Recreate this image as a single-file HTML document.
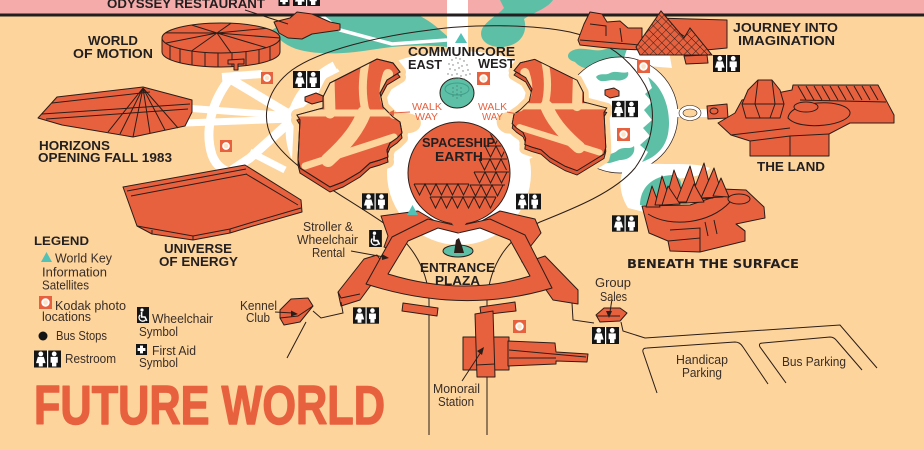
<!DOCTYPE html>
<html><head><meta charset="utf-8">
<style>
html,body{margin:0;padding:0;background:#fdd49c;}
svg{display:block}
text{font-family:"Liberation Sans",Arial,sans-serif}
.b{font-weight:bold;fill:#231f20;font-size:13px}
.r{fill:#3a2e28;font-size:12.5px}
.bd{fill:#e8613f;stroke:#2b1d18;stroke-width:1;stroke-linejoin:round}
.ln{fill:none;stroke:#2b1d18;stroke-width:1}
.wk{fill:#e8613f;font-size:10px}
</style></head><body>
<svg width="924" height="450" viewBox="0 0 924 450" xmlns="http://www.w3.org/2000/svg" xmlns:xlink="http://www.w3.org/1999/xlink">
<defs>
 <symbol id="rr" viewBox="0 0 27 17">
  <rect width="27" height="17" fill="#151515"/>
  <rect x="13" y="0" width="1.2" height="17" fill="#fff"/>
  <circle cx="6.8" cy="3.4" r="2.4" fill="#fff"/>
  <path d="M3.8,6.4 H9.8 L11.6,12.6 H8.8 V16 H4.8 V12.6 H2 Z" fill="#fff"/>
  <circle cx="20.2" cy="3.4" r="2.4" fill="#fff"/>
  <path d="M16.6,6.4 H23.8 V12.2 H22.4 V16 H18 V12.2 H16.6 Z" fill="#fff"/>
 </symbol>
 <symbol id="kd" viewBox="0 0 13 13">
  <rect width="13" height="13" fill="#e8613f"/>
  <circle cx="6.5" cy="6.5" r="4.2" fill="#fff"/>
  <circle cx="6.5" cy="6.5" r="2.4" fill="#fde3c6"/>
 </symbol>
 <symbol id="wc" viewBox="0 0 12 16">
  <rect width="12" height="16" fill="#151515"/>
  <circle cx="5" cy="3" r="1.6" fill="#fff"/>
  <path d="M4.6,5 V10 H8 L9.8,13.8" stroke="#fff" stroke-width="1.6" fill="none"/>
  <path d="M3,8 A3.6,3.6 0 1 0 8.4,13" stroke="#fff" stroke-width="1.3" fill="none"/>
 </symbol>
 <symbol id="fa" viewBox="0 0 11 11">
  <rect width="11" height="11" fill="#151515"/>
  <rect x="4" y="1.6" width="3" height="7.8" fill="#fff"/>
  <rect x="1.6" y="4" width="7.8" height="3" fill="#fff"/>
 </symbol>
 <pattern id="lat" width="6" height="6" patternUnits="userSpaceOnUse" patternTransform="rotate(45)">
  <rect width="6" height="6" fill="#e8613f"/>
  <path d="M0,0 H6 M0,0 V6" stroke="#2b1d18" stroke-width="0.9"/>
 </pattern>
 <path id="eP" d="M330,83 L377,59 L393,63 L400,72 L387,80 L380,93 L383,107 L393,117 L400,122 L402,133 L397,138 L390,143 L387,150 L388,157 L380,160 L370,163 L360,172 L343,182 L330,187 L300,168 L298,160 L300,120 L297,115 L323,108 L323,97 Z"/>
 <clipPath id="eC"><use href="#eP" xlink:href="#eP"/></clipPath>
 <clipPath id="sC"><circle cx="459" cy="173" r="50"/></clipPath>
</defs>

<!-- background -->
<rect width="924" height="450" fill="#fdd49c"/>
<rect x="0" y="0" width="924" height="15" fill="#f5abaa"/>
<rect x="447" y="0" width="21" height="62" fill="#fff"/>
<path d="M272,30 C285,22 300,16 318,16 L420,16 C432,22 440,30 447,36 L447,47 C420,44 395,46 370,50 C345,54 320,55 300,50 C288,47 278,40 272,30 Z" fill="#5dbfa6"/>
<path d="M500,0 L553,0 C547,9 532,13 524,19 C528,31 522,45 503,47 C487,48 478,39 482,29 C486,21 498,15 504,8 Z" fill="#5dbfa6"/>
<path d="M570,52 C580,45 592,52 602,50 C612,48 620,44 632,48 C642,52 640,62 630,64 C618,66 610,60 600,66 C592,72 580,68 575,62 C568,60 566,56 570,52 Z" fill="#5dbfa6"/>
<path d="M322,16 L340,30 L392,44 L447,40" fill="none" stroke="#fff" stroke-width="3.5"/>

<!-- white areas -->
<ellipse cx="458" cy="112" rx="112" ry="61" fill="#fff"/>
<circle cx="459" cy="173" r="72" fill="#fff"/>
<path d="M622,64 L628,46 L668,46 L672,68 Z" fill="#fff"/>
<circle cx="620" cy="115" r="58" fill="#fff" stroke="#2b1d18" stroke-width="0.7"/>
<rect x="672" y="109" width="36" height="8" fill="#fff"/>
<ellipse cx="690" cy="113" rx="11" ry="7.5" fill="#fff" stroke="#2b1d18" stroke-width="0.6"/>
<ellipse cx="690" cy="113" rx="7" ry="4" fill="#fdd49c" stroke="#2b1d18" stroke-width="0.6"/>
<path d="M628,160 C650,168 690,160 710,168 C700,180 680,176 664,182 C650,188 642,198 644,212 L628,208 C618,192 618,175 628,160 Z" fill="#fff"/>
<g fill="none" stroke="#fff">
 <path d="M232,76 C212,100 204,130 212,155 C216,166 224,172 236,174" stroke-width="9"/>
 <path d="M222,77 L262,74" stroke-width="8"/>
 <path d="M232,80 L292,116" stroke-width="9"/>
 <path d="M185,108 L292,116" stroke-width="7"/>
 <path d="M185,123 L292,119" stroke-width="7"/>
 <path d="M292,120 L250,158 L232,170" stroke-width="9"/>
 <path d="M250,152 L285,170" stroke-width="7"/>
 <path d="M288,115 L318,88 L340,72" stroke-width="9"/>
 <path d="M335,66 C305,82 288,108 291,138 C293,155 300,166 312,176" stroke-width="10"/>
</g>
<circle cx="290" cy="117" r="8" fill="#fff"/>

<!-- teal inside ring -->
<path fill="#5dbfa6" d="M596,77 C600,72 606,76 610,73 C616,70 622,74 628,72 C630,78 622,82 614,80 C606,80 600,84 596,77 Z"/>
<path fill="#5dbfa6" d="M648,77 C664,88 672,112 668,134 C665,148 656,157 642,162 L648,152 L640,145 L650,136 L643,128 L652,120 L644,110 L652,102 L645,94 L652,88 Z"/>
<path fill="#5dbfa6" d="M600,160 C605,152 612,156 618,150 C624,146 630,150 634,146 C636,155 628,160 620,160 C612,162 606,166 600,160 Z"/>
<path fill="#5dbfa6" d="M640,205 C640,188 652,176 672,175 C680,176 684,184 680,192 L660,205 Z"/>

<!-- peach pads -->
<g fill="#fdd49c" stroke="#fdd49c" stroke-width="12" stroke-linejoin="round">
 <use href="#eP" xlink:href="#eP"/>
 <use href="#eP" xlink:href="#eP" transform="translate(0,5)"/>
 <g transform="translate(874,8) scale(-0.9,0.87)">
  <use href="#eP" xlink:href="#eP"/>
  <use href="#eP" xlink:href="#eP" transform="translate(0,5)"/>
 </g>
</g>
<path fill="#fdd49c" d="M388,116 C398,111 415,112 420,119 C423,126 418,132 410,133 C400,134 392,130 388,126 Z"/>
<path fill="#fdd49c" d="M533,114 C523,110 505,110 498,116 C495,122 497,130 505,133 C515,135 528,132 533,128 Z"/>

<!-- monorail loop -->
<path class="ln" d="M429,435 L429,300 C428,272 415,247 388,226 C345,196 292,170 272,138 C260,115 268,88 292,70 C320,50 380,36 430,30 C470,24 530,24 570,32 C605,40 630,58 645,85 C657,108 655,140 635,168 C615,192 575,208 540,222 C510,236 490,262 487,300 L487,435"/>

<rect x="0" y="13.5" width="924" height="3" fill="#231f20"/>

<!-- Communicore buildings -->
<g id="eB">
 <use href="#eP" xlink:href="#eP" transform="translate(0,5)" fill="#dd5535" stroke="#2b1d18"/>
 <use href="#eP" xlink:href="#eP" fill="#e8613f" stroke="#2b1d18"/>
 <g clip-path="url(#eC)" fill="none" stroke="#fdd49c" stroke-linecap="round">
  <path d="M294,113 L404,113" stroke-width="7"/>
  <path d="M367,56 C361,80 362,98 366,113" stroke-width="8"/>
  <path d="M329,78 L330,113" stroke-width="11"/>
  <path d="M388,74 C382,92 384,104 394,114" stroke-width="10"/>
  <path d="M364,113 C358,128 348,142 328,160" stroke-width="14"/>
  <path d="M305,166 L394,137" stroke-width="7"/>
 </g>
 <use href="#eP" xlink:href="#eP" fill="none" stroke="#2b1d18"/>
</g>
<use href="#eB" xlink:href="#eB" transform="translate(874,8) scale(-0.9,0.87)"/>

<!-- Odyssey -->
<path class="bd" d="M274,22 L290,18 L297,12 L312,14 L330,22 L340,24 L340,30 L326,32 L312,34 L302,39 L288,38 L279,33 Z"/>
<path class="ln" d="M245,10 L288,24"/>

<!-- World of Motion -->
<path class="bd" d="M162,38 L162,52 A59,15 0 0 0 280,52 L280,38 Z"/>
<ellipse class="bd" cx="221" cy="38" rx="59" ry="15"/>
<path class="ln" d="M217,33 L280,38 M217,33 L266,47.6 M217,33 L231,52.8 M217,33 L191.5,51 M217,33 L165.6,43.1 M217,33 L165.6,32.9 M217,33 L191.5,25 M217,33 L231,23.2 M217,33 L266,28.4"/>
<path class="ln" d="M170,45.5 V59.5 M180,48.8 V62.8 M192,51.1 V65.1 M205,52.4 V66.4 M218,53 V67 M232,52.7 V66.7 M246,51.6 V65.6 M259,49.5 V63.5 M270,46.4 V60.4"/>
<path class="bd" d="M228,60 L244,59 L244,64 L238,64 L238,70 L234,70 L234,64 L228,64 Z"/>

<!-- Horizons -->
<path class="bd" d="M38,118 L57,97 L143,87 L192,100 L192,112 L185,126 L133,137 L62,125 Z"/>
<path class="ln" d="M42,114 L190,104 M46,119 L188,109 M52,103 L150,92 M143,88 L108,132 M143,88 L120,134 M143,88 L133,137 M143,88 L150,133 M143,88 L165,130 M143,88 L178,128"/>

<!-- Universe of Energy -->
<path class="bd" d="M123,187 L245,165 L301,200 L302,212 L253,226 L230,233 L193,240 L152,234 L137,226 Z"/>
<path class="ln" d="M127,191 L246,169 M131,196 L247,174 M246,174 L298,205 M137,226 L193,236 L230,229 L253,222 L301,208 M193,236 L193,240 M230,229 L230,233 M152,230 L152,234"/>

<!-- Journey into Imagination -->
<path class="bd" d="M656,18 L727,20 L727,48 L706,50 L690,40 Z"/>
<path class="bd" d="M578,40 L584,24 L590,12 L602,14 L607,22 L620,21 L628,28 L642,28 L642,50 L620,49 L598,47 L580,45 Z"/>
<path class="ln" d="M580,40 L640,45 M590,24 L606,26 L606,36 M620,28 L622,42"/>
<path fill="url(#lat)" stroke="#2b1d18" d="M636,47 L661,11 L684,38 L690,28 L712,55 L640,55 Z"/>
<path class="bd" d="M684,56 L707,55 L708,63 L686,64 Z"/>

<!-- The Land -->
<path class="bd" d="M707,106 L727,104 L728,118 L708,119 Z"/>
<ellipse class="bd" cx="714" cy="111" rx="4" ry="3"/>
<path class="bd" d="M718,123 L735,113 L742,100 L792,90 L793,85 L878,85 L894,115 L894,123 L850,123 L829,134 L829,156 L750,156 L750,141 L731,135 Z"/>
<path class="ln" d="M798,86 L806,100 M806,86 L814,100 M814,86 L822,100 M822,86 L830,100 M830,86 L838,100 M838,86 L846,100 M846,86 L854,100 M854,86 L862,100 M862,86 L870,100 M870,86 L878,100 M800,100 L886,102 M750,141 L790,136 L829,134 M790,136 L790,156 M731,135 L790,128"/>
<path class="bd" d="M742,104 L748,90 L758,80 L772,80 L780,90 L784,104 L780,118 L746,118 Z"/>
<path class="ln" d="M758,80 L755,104 L760,118 M772,80 L775,104 L770,118 M742,104 L784,104"/>
<path class="bd" d="M788,118 C790,100 845,98 850,112 C852,125 800,132 788,118 Z"/>
<ellipse class="bd" cx="806" cy="107" rx="12" ry="5"/>

<!-- Beneath the Surface -->
<path class="bd" d="M642,206 L649,233 L668,241 L670,251 L700,252 L745,241 L745,231 L736,224 L765,218 L764,207 L746,190 L722,189 L714,197 L690,205 Z"/>
<path class="ln" d="M648,214 C670,228 710,224 730,202 M668,241 L700,238 L700,252 M670,230 L700,228 L700,238 M705,222 L708,236 M714,220 L717,234 M745,231 L736,224"/>
<ellipse class="bd" cx="739" cy="199" rx="11" ry="5"/>
<g class="bd">
 <path d="M646,207 L652,186 L660,207 Z"/>
 <path d="M655,205 L662,176 L672,205 Z"/>
 <path d="M665,203 L674,170 L686,203 Z"/>
 <path d="M676,202 L690,166 L700,202 Z"/>
 <path d="M690,200 L704,163 L713,198 Z"/>
 <path d="M701,198 L714,168 L723,197 Z"/>
 <path d="M713,196 L721,178 L729,197 Z"/>
 <path d="M662,205 L668,186 L680,204 Z"/>
 <path d="M686,203 L694,184 L704,202 Z"/>
</g>

<!-- Spaceship Earth -->
<circle cx="459" cy="173" r="51" class="bd"/>
<g clip-path="url(#sC)" class="ln" stroke-width="0.9">
 <path d="M414,184 H469 M414,184 L419.5,195 L425,184 L430.5,195 L436,184 L441.5,195 L447,184 L452.5,195 L458,184 L463.5,195 L469,184"/>
 <path d="M430,197 H496 M430,197 L435.5,208 L441,197 L446.5,208 L452,197 L457.5,208 L463,197 L468.5,208 L474,197 L479.5,208 L485,197 L490.5,208 L496,197"/>
 <path d="M474,172 H510 M474,172 L479.5,183 L485,172 L490.5,183 L496,172 L501.5,183 L507,172"/>
 <path d="M479,159 H510 M479,159 L484.5,170 L490,159 L495.5,170 L501,159 L506.5,170"/>
 <path d="M485,146 H510 M485,146 L490.5,157 L496,146 L501.5,157 L507,146"/>
 <path d="M490,133 H506 M490,133 L495.5,144 L501,133"/>
 <path d="M470,185 H505 M470,185 L475.5,196 L481,185 L486.5,196 L492,185 L497.5,196 L503,185"/>
</g>

<!-- Communicore fountain -->
<ellipse cx="457" cy="93" rx="17" ry="15" fill="#5dbfa6" stroke="#2b1d18"/>
<ellipse cx="457" cy="89" rx="12" ry="6" fill="none" stroke="#3f9f89" stroke-width="1"/>
<g fill="#4a6d64">
 <circle cx="453" cy="88" r=".6"/><circle cx="453" cy="92" r=".6"/><circle cx="453" cy="96" r=".6"/>
 <circle cx="457" cy="86" r=".6"/><circle cx="457" cy="90" r=".6"/><circle cx="457" cy="94" r=".6"/><circle cx="457" cy="98" r=".6"/>
 <circle cx="461" cy="88" r=".6"/><circle cx="461" cy="92" r=".6"/><circle cx="461" cy="96" r=".6"/>
</g>
<g fill="#777">
 <circle cx="452" cy="60" r=".7"/><circle cx="456" cy="58" r=".7"/><circle cx="460" cy="59" r=".7"/><circle cx="464" cy="61" r=".7"/>
 <circle cx="449" cy="64" r=".7"/><circle cx="453" cy="65" r=".7"/><circle cx="458" cy="63" r=".7"/><circle cx="462" cy="66" r=".7"/><circle cx="467" cy="65" r=".7"/>
 <circle cx="450" cy="69" r=".7"/><circle cx="455" cy="70" r=".7"/><circle cx="459" cy="68" r=".7"/><circle cx="463" cy="71" r=".7"/><circle cx="468" cy="70" r=".7"/>
 <circle cx="448" cy="74" r=".7"/><circle cx="452" cy="75" r=".7"/><circle cx="457" cy="74" r=".7"/><circle cx="461" cy="76" r=".7"/><circle cx="466" cy="75" r=".7"/><circle cx="470" cy="74" r=".7"/>
 <circle cx="454" cy="79" r=".7"/><circle cx="459" cy="78" r=".7"/><circle cx="464" cy="79" r=".7"/>
</g>

<!-- Entrance plaza structures -->
<path class="bd" d="M338,292 L364,259 L377,255 L385,266 L360,300 L341,306 Z"/>
<path class="ln" d="M338,292 L341,298 L360,294"/>
<path class="bd" d="M381,216 L418,211 L440,224 L428,230 L405,238 L392,250 L384,247 L388,236 Z"/>
<path class="bd" d="M478,223 L500,211 L535,219 L541,233 L530,247 L518,240 L505,230 Z"/>
<path class="bd" d="M533,260 L545,256 L578,290 L578,304 L553,300 L533,271 Z"/>
<path class="bd" d="M518,246 L528,244 L532,262 L522,262 Z"/>
<path class="bd" fill-rule="evenodd" d="M366,284 L392,237 L428,219 L458,226 L490,219 L525,235 L552,288 Q463,315 366,284 Z M388,274 L408,241 L438,228 L458,233 L480,228 L510,240 L530,276 Q463,297 388,274 Z"/>
<path fill="#e8613f" d="M451,222 L467,222 L459,233 Z"/>
<ellipse cx="458" cy="251" rx="15" ry="6" fill="#5dbfa6" stroke="#2b1d18"/>
<path d="M454,253 L456,240 L459,238 L462,246 L464,253 Z" fill="#2b1d18"/>
<path class="bd" d="M403,303 L438,308 L437,316 L402,311 Z"/>
<path class="bd" d="M480,307 L515,302 L516,311 L481,315 Z"/>

<!-- Monorail station -->
<rect class="bd" x="463" y="337" width="46" height="33"/>
<path class="bd" d="M508,341 L555,343 L556,352 L588,354 L587,362 L556,361 L556,364 L508,366 Z"/>
<path class="ln" d="M509,350 L586,357 M509,358 L556,358"/>
<path class="bd" d="M475,314 L493,311 L495,377 L477,377 Z"/>
<path class="ln" d="M476,365 L495,364"/>

<!-- small buildings -->
<path class="bd" d="M280,310 L291,299 L308,298 L313,306 L300,322 L284,325 L280,318 Z"/>
<path class="ln" d="M280,318 L298,316 L313,306"/>
<path class="bd" d="M596,315 L604,308 L620,308 L627,313 L620,321 L600,322 Z"/>
<path class="ln" d="M597,316 L620,316"/>
<path class="bd" d="M305,97 L316,93 L323,96 L323,101 L312,104 L305,101 Z"/>
<path class="bd" d="M605,90 L614,88 L619,91 L619,96 L610,98 L605,95 Z"/>

<!-- lines -->
<path class="ln" d="M313,311 L321,318 L343,313 L341,302"/>
<path class="ln" d="M306,322 L287,358"/>
<path class="ln" d="M572,303 L573,320 L594,323"/>
<path class="ln" d="M621,322 L623,331 L645,338 L840,325 L877,368"/>
<path class="ln" d="M657,393 L643,352 Q642,348 647,348 L735,342 Q740,342 743,347 L768,384"/>
<path class="ln" d="M786,383 L760,347 Q758,343 763,343 L830,337 Q834,337 837,341 L862,370"/>
<!-- arrows -->
<path class="ln" d="M351,251 L384,257"/><path d="M389,258 L382,254 L382,260 Z" fill="#2b1d18"/>
<path class="ln" d="M275,312 L293,313"/><path d="M298,314 L291,310.5 L291,316.5 Z" fill="#2b1d18"/>
<path class="ln" d="M462,381 L481,352"/><path d="M484,347 L477,351 L482,355 Z" fill="#2b1d18"/>
<path class="ln" d="M612,299 L610,312"/><path d="M609,318 L606,311 L612,311 Z" fill="#2b1d18"/>
<path d="M410,112 L392,113" stroke="#e8613f" stroke-width="1"/><path d="M388,113 L394,110 L394,116 Z" fill="#e8613f"/>
<path d="M507,112 L523,115" stroke="#e8613f" stroke-width="1"/><path d="M527,116 L520,112 L520,118 Z" fill="#e8613f"/>

<!-- icons -->
<use href="#fa" xlink:href="#fa" x="278" y="-5" width="12" height="11"/>
<use href="#rr" xlink:href="#rr" x="293" y="-11" width="27" height="17"/>
<use href="#rr" xlink:href="#rr" x="293" y="71" width="27" height="17"/>
<use href="#rr" xlink:href="#rr" x="362" y="193" width="26" height="17"/>
<use href="#rr" xlink:href="#rr" x="516" y="193" width="25" height="17"/>
<use href="#rr" xlink:href="#rr" x="612" y="100" width="26" height="18"/>
<use href="#rr" xlink:href="#rr" x="713" y="55" width="27" height="17"/>
<use href="#rr" xlink:href="#rr" x="612" y="215" width="26" height="17"/>
<use href="#rr" xlink:href="#rr" x="353" y="307" width="26" height="17"/>
<use href="#rr" xlink:href="#rr" x="592" y="327" width="27" height="17"/>
<use href="#rr" xlink:href="#rr" x="34" y="350" width="27" height="18"/>
<use href="#kd" xlink:href="#kd" x="261" y="72" width="12" height="12"/>
<use href="#kd" xlink:href="#kd" x="220" y="140" width="12" height="12"/>
<use href="#kd" xlink:href="#kd" x="477" y="72" width="13" height="13"/>
<use href="#kd" xlink:href="#kd" x="637" y="60" width="13" height="13"/>
<use href="#kd" xlink:href="#kd" x="617" y="128" width="13" height="13"/>
<use href="#kd" xlink:href="#kd" x="513" y="320" width="13" height="13"/>
<use href="#kd" xlink:href="#kd" x="39" y="296" width="13" height="13"/>
<use href="#wc" xlink:href="#wc" x="137" y="307" width="12" height="16"/>
<use href="#wc" xlink:href="#wc" x="369" y="230" width="13" height="17"/>
<use href="#fa" xlink:href="#fa" x="136" y="344" width="11" height="11"/>
<path d="M461,33 L467,43 L455,43 Z" fill="#52c1b6"/>
<path d="M412.5,205 L418,215 L407,215 Z" fill="#52c1b6"/>
<path d="M46.5,252 L52,262 L41,262 Z" fill="#52c1b6"/>
<circle cx="43" cy="336" r="4.5" fill="#151515"/>

<!-- bold labels -->
<text class="b" x="107" y="8" textLength="158" lengthAdjust="spacingAndGlyphs">ODYSSEY RESTAURANT</text>
<text class="b" x="88" y="45" textLength="50" lengthAdjust="spacingAndGlyphs">WORLD</text>
<text class="b" x="73" y="58" textLength="80" lengthAdjust="spacingAndGlyphs">OF MOTION</text>
<text class="b" x="39" y="150" textLength="71" lengthAdjust="spacingAndGlyphs">HORIZONS</text>
<text class="b" x="38" y="162" textLength="134" lengthAdjust="spacingAndGlyphs">OPENING FALL 1983</text>
<text class="b" x="164" y="253" textLength="68" lengthAdjust="spacingAndGlyphs">UNIVERSE</text>
<text class="b" x="159" y="266" textLength="79" lengthAdjust="spacingAndGlyphs">OF ENERGY</text>
<text class="b" x="408" y="56" textLength="107" lengthAdjust="spacingAndGlyphs">COMMUNICORE</text>
<text class="b" x="408" y="69" textLength="34" lengthAdjust="spacingAndGlyphs">EAST</text>
<text class="b" x="478" y="68" textLength="37" lengthAdjust="spacingAndGlyphs">WEST</text>
<text class="b" x="422" y="147" textLength="73" lengthAdjust="spacingAndGlyphs">SPACESHIP</text>
<text class="b" x="435" y="161" textLength="48" lengthAdjust="spacingAndGlyphs">EARTH</text>
<text class="b" x="420" y="272" textLength="75" lengthAdjust="spacingAndGlyphs">ENTRANCE</text>
<text class="b" x="435" y="285" textLength="45" lengthAdjust="spacingAndGlyphs">PLAZA</text>
<text class="b" x="733" y="32" textLength="105" lengthAdjust="spacingAndGlyphs">JOURNEY INTO</text>
<text class="b" x="738" y="45" textLength="97" lengthAdjust="spacingAndGlyphs">IMAGINATION</text>
<text class="b" x="757" y="171" textLength="68" lengthAdjust="spacingAndGlyphs">THE LAND</text>
<text x="627" y="268" textLength="172" lengthAdjust="spacingAndGlyphs" style="font-family:'DejaVu Sans','Liberation Sans',sans-serif;font-weight:bold;font-size:12.5px;fill:#231f20">BENEATH THE SURFACE</text>
<text class="b" x="34" y="245" textLength="55" lengthAdjust="spacingAndGlyphs" style="font-size:11.5px">LEGEND</text>

<!-- walkway -->
<text class="wk" x="412" y="110" textLength="30" lengthAdjust="spacingAndGlyphs">WALK</text>
<text class="wk" x="415" y="120" textLength="23" lengthAdjust="spacingAndGlyphs">WAY</text>
<text class="wk" x="478" y="110" textLength="29" lengthAdjust="spacingAndGlyphs">WALK</text>
<text class="wk" x="482" y="120" textLength="21" lengthAdjust="spacingAndGlyphs">WAY</text>

<!-- regular labels -->
<text class="r" x="55" y="262.5" textLength="57" lengthAdjust="spacingAndGlyphs">World Key</text>
<text class="r" x="42" y="276.5" textLength="65" lengthAdjust="spacingAndGlyphs">Information</text>
<text class="r" x="42" y="289.5" textLength="47" lengthAdjust="spacingAndGlyphs">Satellites</text>
<text class="r" x="55" y="310" textLength="71" lengthAdjust="spacingAndGlyphs">Kodak photo</text>
<text class="r" x="42" y="321" textLength="49" lengthAdjust="spacingAndGlyphs">locations</text>
<text class="r" x="56" y="340" textLength="51" lengthAdjust="spacingAndGlyphs">Bus Stops</text>
<text class="r" x="65" y="363" textLength="51" lengthAdjust="spacingAndGlyphs">Restroom</text>
<text class="r" x="152" y="323" textLength="61" lengthAdjust="spacingAndGlyphs">Wheelchair</text>
<text class="r" x="139" y="336" textLength="39" lengthAdjust="spacingAndGlyphs">Symbol</text>
<text class="r" x="152" y="355" textLength="44" lengthAdjust="spacingAndGlyphs">First Aid</text>
<text class="r" x="139" y="367" textLength="39" lengthAdjust="spacingAndGlyphs">Symbol</text>
<text class="r" x="240" y="310" textLength="37" lengthAdjust="spacingAndGlyphs">Kennel</text>
<text class="r" x="246" y="322" textLength="24" lengthAdjust="spacingAndGlyphs">Club</text>
<text class="r" x="303" y="231" textLength="50" lengthAdjust="spacingAndGlyphs">Stroller &amp;</text>
<text class="r" x="297" y="244" textLength="61" lengthAdjust="spacingAndGlyphs">Wheelchair</text>
<text class="r" x="312" y="257" textLength="33" lengthAdjust="spacingAndGlyphs">Rental</text>
<text class="r" x="595" y="287" textLength="36" lengthAdjust="spacingAndGlyphs">Group</text>
<text class="r" x="600" y="301" textLength="27" lengthAdjust="spacingAndGlyphs">Sales</text>
<text class="r" x="676" y="364" textLength="52" lengthAdjust="spacingAndGlyphs">Handicap</text>
<text class="r" x="682" y="377" textLength="40" lengthAdjust="spacingAndGlyphs">Parking</text>
<text class="r" x="782" y="366" textLength="64" lengthAdjust="spacingAndGlyphs">Bus Parking</text>
<text class="r" x="433" y="393" textLength="47" lengthAdjust="spacingAndGlyphs">Monorail</text>
<text class="r" x="438" y="406" textLength="36" lengthAdjust="spacingAndGlyphs">Station</text>

<!-- title -->
<text x="34" y="424" textLength="351" lengthAdjust="spacingAndGlyphs" style="font-weight:bold;font-size:55px;fill:#e8613f;stroke:#e8613f;stroke-width:1.4;stroke-linejoin:round">FUTURE WORLD</text>
</svg>
</body></html>
